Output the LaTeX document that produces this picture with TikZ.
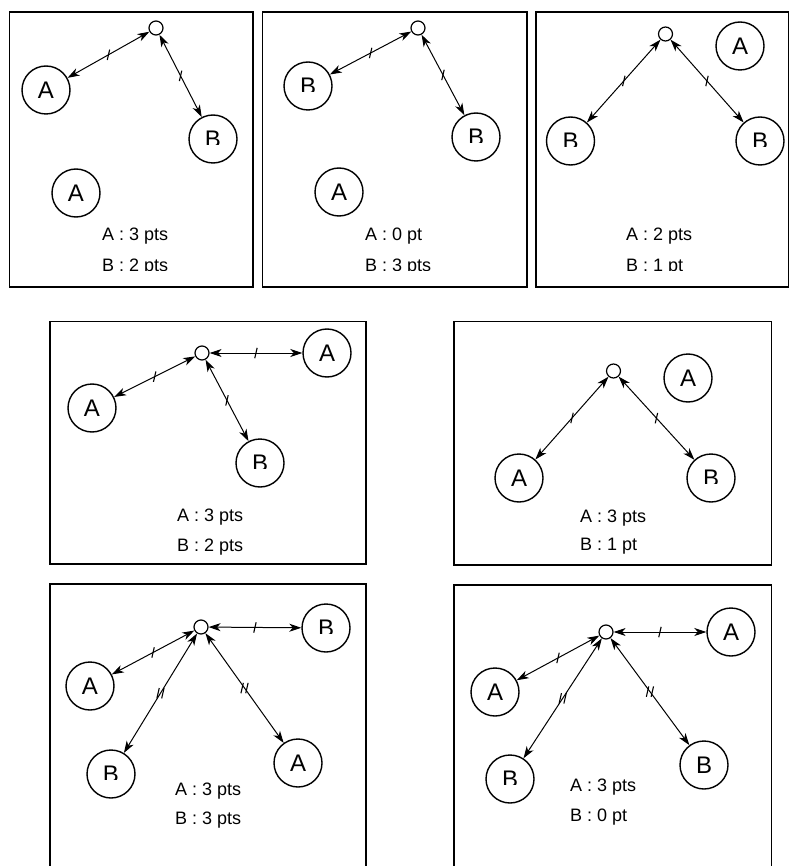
\documentclass[tikz,border=0pt]{standalone}
\usepackage{fontspec}
\setmainfont{Liberation Sans}
\usetikzlibrary{arrows.meta,decorations.markings}
\tikzset{
  hub/.style={circle,draw,line width=1.2pt,minimum size=14pt,inner sep=0pt},
  pl/.style={circle,draw,line width=1.4pt,minimum size=48pt,inner sep=0pt,font=\fontsize{24}{24}\selectfont},
  letter/.style={inner sep=0pt,font=\fontsize{24}{24}\selectfont},
  panel/.style={line width=1.8pt},
  tip/.tip={Stealth[length=12pt,width=8pt,inset=3.5pt]},
  link/.style={line width=1pt,tip-tip},
  onetick/.style={postaction={decorate},decoration={markings,
      mark=at position 0.5 with {\pgftransformresetnontranslations
        \draw[-,line width=1.1pt] (-1.2pt,-5.2pt) -- (1.2pt,5.2pt);}}},
  twotick/.style={postaction={decorate},decoration={markings,
      mark=at position 0.5 with {\pgftransformresetnontranslations
        \draw[-,line width=1.1pt] (-3.6pt,-5.2pt) -- (-1.2pt,5.2pt) (1.2pt,-5.2pt) -- (3.6pt,5.2pt);}}},
  score/.style={anchor=base west,inner sep=0pt,font=\fontsize{18}{18}\selectfont}
}
% circle with a B whose lower part is cut off, as in the reference
\newcommand{\cutB}[3]{%
  \node[pl] (#1) at (#2,#3) {};
  \begin{scope}
    \clip (#2-16,#3-14) rectangle (#2+16,#3+5.5);
    \node[letter] (#1t) at (#2,#3+0.5) {B};
  \end{scope}}
\begin{document}
\begin{tikzpicture}[x=1pt,y=-1pt]
\useasboundingbox (0,0) rectangle (790,866);

% ---------- panel 1 ----------
\draw[panel] (9.5,12) rectangle (253,287);
\node[hub] (h1) at (156,28) {};
\node[pl] (p1a) at (46,90) {A};
\cutB{p1b}{213}{139}
\node[pl] (p1c) at (76,193) {A};
\draw[link,onetick] (h1) -- (p1a);
\draw[link,onetick] (h1) -- (p1b);
\node[score] (s1a) at (102,241) {A : 3 pts};
\begin{scope}
  \clip (95,250) rectangle (200,271);
  \node[score] (s1b) at (102,271.5) {B : 2 pts};
\end{scope}

% ---------- panel 2 ----------
\draw[panel] (262.5,12) rectangle (527,287);
\node[hub] (h2) at (418,28) {};
\cutB{p2a}{308}{86}
\cutB{p2b}{476}{137}
\node[pl] (p2c) at (339,192) {A};
\draw[link,onetick] (h2) -- (p2a);
\draw[link,onetick] (h2) -- (p2b);
\node[score] (s2a) at (365,241) {A : 0 pt};
\begin{scope}
  \clip (358,250) rectangle (470,271);
  \node[score] (s2b) at (365,271.5) {B : 3 pts};
\end{scope}

% ---------- panel 3 ----------
\draw[panel] (536,12) rectangle (788.5,287);
\node[hub] (h3) at (665.5,34) {};
\node[pl] (p3a) at (740,46) {A};
\cutB{p3b}{570.5}{141}
\cutB{p3c}{760}{141}
\draw[link,onetick] (h3) -- (p3b);
\draw[link,onetick] (h3) -- (p3c);
\node[score] (s3a) at (626,241) {A : 2 pts};
\begin{scope}
  \clip (620,250) rectangle (730,271);
  \node[score] (s3b) at (626,271.5) {B : 1 pt};
\end{scope}

% ---------- panel 4 ----------
\draw[panel] (50,321.5) rectangle (366,564);
\node[hub] (h4) at (202,353) {};
\node[pl] (p4a) at (327,353) {A};
\node[pl] (p4b) at (92,408) {A};
\cutB{p4c}{260}{463}
\draw[link,onetick] (h4) -- (p4a);
\draw[link,onetick] (h4) -- (p4b);
\draw[link,onetick] (h4) -- (p4c);
\node[score] (s4a) at (177,521) {A : 3 pts};
\node[score] (s4b) at (177,551) {B : 2 pts};

% ---------- panel 5 ----------
\draw[panel] (454,321.5) rectangle (771.5,565);
\node[hub] (h5) at (613.5,371) {};
\node[pl] (p5a) at (688,378) {A};
\node[pl] (p5b) at (519,478) {A};
\cutB{p5c}{711}{478}
\draw[link,onetick] (h5) -- (p5b);
\draw[link,onetick] (h5) -- (p5c);
\node[score] (s5a) at (580,522) {A : 3 pts};
\node[score] (s5b) at (580,550) {B : 1 pt};

% ---------- panel 6 ----------
\draw[panel] (50,866) -- (50,584) -- (366,584) -- (366,866);
\node[hub] (h6) at (201,627) {};
\cutB{p6a}{326}{628}
\node[pl] (p6b) at (90,686) {A};
\cutB{p6c}{111}{774}
\node[pl] (p6d) at (298,763) {A};
\draw[link,onetick] (h6) -- (p6a);
\draw[link,onetick] (h6) -- (p6b);
\draw[link,twotick] (h6) -- (p6c);
\draw[link,twotick] (h6) -- (p6d);
\node[score] (s6a) at (175,795) {A : 3 pts};
\node[score] (s6b) at (175,824) {B : 3 pts};

% ---------- panel 7 ----------
\draw[panel] (454,866) -- (454,585) -- (771.5,585) -- (771.5,866);
\node[hub] (h7) at (606,632) {};
\node[pl] (p7a) at (731,632) {A};
\node[pl] (p7b) at (495,692) {A};
\cutB{p7c}{510}{779}
\node[pl] (p7d) at (704,765) {B};
\draw[link,onetick] (h7) -- (p7a);
\draw[link,onetick] (h7) -- (p7b);
\draw[link,twotick] (h7) -- (p7c);
\draw[link,twotick] (h7) -- (p7d);
\node[score] (s7a) at (570,791) {A : 3 pts};
\node[score] (s7b) at (570,821) {B : 0 pt};
\end{tikzpicture}
\end{document}
